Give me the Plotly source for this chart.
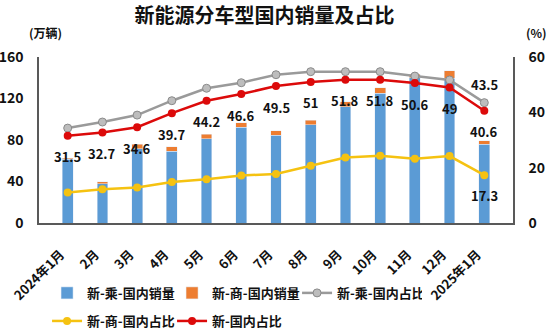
import plotly.graph_objects as go

categories = ["2024年1月", "2月", "3月", "4月", "5月", "6月", "7月", "8月", "9月", "10月", "11月", "12月", "2025年1月"]
passenger_sales = [61.4, 37.9, 71.6, 69.4, 81.0, 92.2, 84.8, 94.5, 112.1, 125.0, 140.0, 139.5, 75.9]
commercial_sales = [1.2, 1.9, 4.5, 4.1, 4.5, 4.2, 3.9, 4.5, 4.8, 5.4, 3.3, 7.3, 3.4]
passenger_share = [34.3, 36.5, 39.0, 44.2, 48.7, 50.7, 53.6, 54.7, 54.7, 54.7, 53.1, 51.7, 43.5]
commercial_share = [11.0, 12.2, 12.8, 14.8, 15.8, 17.2, 17.7, 20.7, 23.7, 24.3, 23.2, 24.2, 17.3]
total_share = [31.5, 32.7, 34.6, 39.7, 44.2, 46.6, 49.5, 51.0, 51.8, 51.8, 50.6, 49.0, 40.6]

FONT = "Noto Sans CJK SC"
AX = "#595959"
TXT = "#111111"
CLEAR = "rgba(0,0,0,0)"

fig = go.Figure()
fig.add_trace(go.Bar(x=categories, y=passenger_sales, name="新-乘-国内销量",
                     marker_color="#5B9BD5", legend="legend"))
fig.add_trace(go.Bar(x=categories, y=commercial_sales, name="新-商-国内销量",
                     marker_color="#ED7D31", legend="legend"))
fig.add_trace(go.Scatter(x=categories, y=passenger_share, name="新-乘-国内占比", yaxis="y2",
                         mode="lines+markers", line=dict(color="#9A9A9A", width=2.5),
                         marker=dict(size=8, color="#BDBDBD", line=dict(color="#8A8A8A", width=1)),
                         legend="legend"))
fig.add_trace(go.Scatter(x=categories, y=commercial_share, name="新-商-国内占比", yaxis="y2",
                         mode="lines+markers", line=dict(color="#F5C211", width=2.5),
                         marker=dict(size=8, color="#F5C211"), legend="legend2"))
fig.add_trace(go.Scatter(x=categories, y=total_share, name="新-国内占比", yaxis="y2",
                         mode="lines+markers", line=dict(color="#DC0A0A", width=2.5),
                         marker=dict(size=8, color="#DC0A0A"), legend="legend2"))

lab_font = dict(family=FONT, size=13, color=TXT, weight="bold")
annotations = []
for i, cat in enumerate(categories):
    annotations.append(dict(x=cat, y=total_share[i], xref="x", yref="y2", text=f"{total_share[i]:g}",
                            showarrow=False, yshift=-21, font=lab_font))
last = categories[-1]
annotations.append(dict(x=last, y=passenger_share[-1], xref="x", yref="y2", text=f"{passenger_share[-1]:g}",
                        showarrow=False, yshift=18, font=lab_font))
annotations.append(dict(x=last, y=commercial_share[-1], xref="x", yref="y2", text=f"{commercial_share[-1]:g}",
                        showarrow=False, yshift=-20, font=lab_font))
annotations.append(dict(x=0.0127, y=1.15, xref="paper", yref="paper", text="(万辆)", showarrow=False,
                        xanchor="center", yanchor="middle",
                        font=dict(family=FONT, size=12, color=TXT, weight="bold")))
annotations.append(dict(x=1.0506, y=1.15, xref="paper", yref="paper", text="(%)", showarrow=False,
                        xanchor="center", yanchor="middle",
                        font=dict(family=FONT, size=12, color=TXT, weight="bold")))

leg_font = dict(family=FONT, size=13, weight="bold", color=TXT)
tick_font = dict(family=FONT, size=14, weight="bold", color=TXT)

fig.update_layout(
    width=550, height=331,
    margin=dict(l=39, r=37, t=57, b=108, autoexpand=False),
    paper_bgcolor="white", plot_bgcolor="white",
    barmode="stack", bargap=0.69,
    title=dict(text="新能源分车型国内销量及占比", x=0.481, xanchor="center", y=0.952, yanchor="middle",
               font=dict(family=FONT, size=20, color=TXT, weight="bold")),
    font=dict(family=FONT, color=TXT),
    xaxis=dict(showline=True, linecolor=AX, linewidth=1.5, showgrid=False, tickangle=-45,
               ticks="outside", ticklen=17, tickcolor=CLEAR, automargin=False, ticklabelshift=-7,
               tickfont=dict(family=FONT, size=13, weight="bold", color=TXT)),
    yaxis=dict(range=[0, 160], dtick=40, showline=True, linecolor=AX, linewidth=1.5, showgrid=False,
               zeroline=False, ticks="outside", ticklen=11, tickcolor=CLEAR, automargin=False,
               tickfont=tick_font),
    yaxis2=dict(range=[0, 60], dtick=20, overlaying="y", side="right", showline=True, linecolor=AX,
                linewidth=1.5, showgrid=False, zeroline=False, ticks="outside", ticklen=11,
                tickcolor=CLEAR, automargin=False, tickfont=tick_font),
    legend=dict(orientation="h", x=0.017, y=-0.331, xanchor="left", yanchor="top",
                entrywidth=80, entrywidthmode="pixels", traceorder="normal",
                font=leg_font, bgcolor=CLEAR),
    legend2=dict(orientation="h", x=0.017, y=-0.5, xanchor="left", yanchor="top",
                 entrywidth=80, entrywidthmode="pixels", traceorder="normal",
                 font=leg_font, bgcolor=CLEAR),
    annotations=annotations,
)

fig.write_html("out.html")
